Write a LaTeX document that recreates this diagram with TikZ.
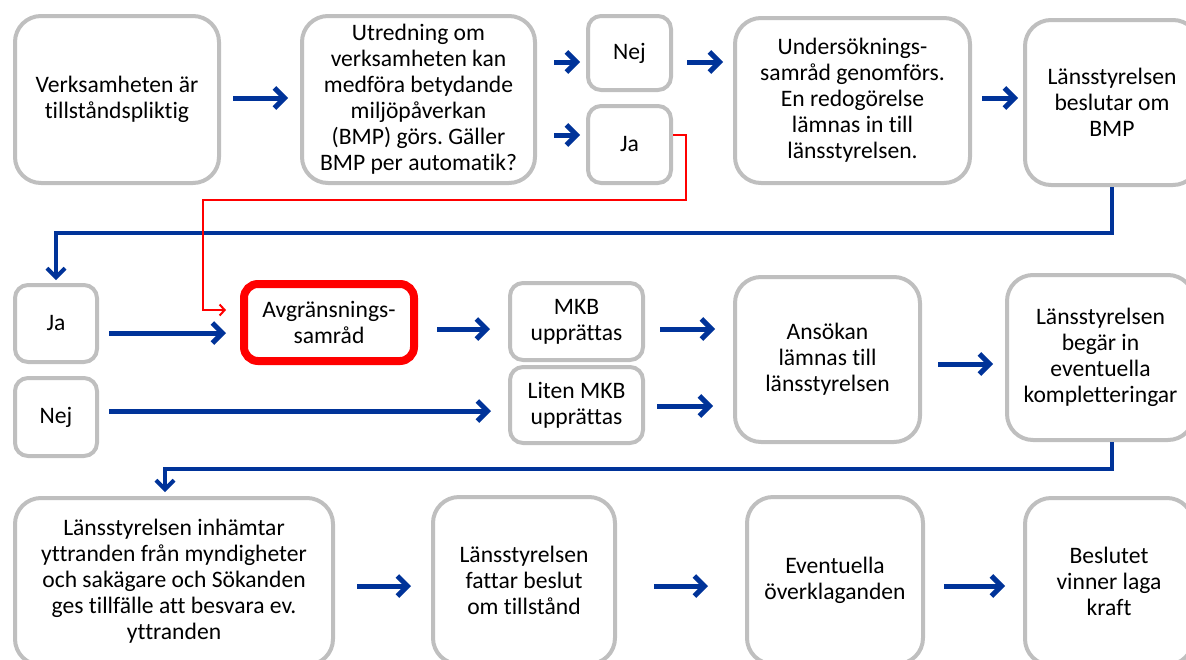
\documentclass[tikz,border=0pt]{standalone}
\usepackage{fontspec}
\setmainfont{Carlito}[Ligatures=NoCommon]
\frenchspacing
\usetikzlibrary{arrows.meta,calc}
\definecolor{boxgray}{RGB}{191,191,191}
\definecolor{arrblue}{RGB}{0,51,153}
\definecolor{hired}{RGB}{255,0,0}
\tikzset{
  box/.style={draw=boxgray, line width=4pt, fill=white, align=center, inner sep=2pt,
    font=\fontsize{23.6}{26}\selectfont},
  bigbox/.style={box, rounded corners=26pt},
  smallbox/.style={box, rounded corners=13pt},
  redbox/.style={box, draw=hired, line width=8pt, rounded corners=14pt},
  arr/.style={draw=arrblue, line width=5pt, -{Straight Barb[length=10pt,width=20pt]}},
  conn/.style={draw=arrblue, line width=4pt, -{Straight Barb[length=9pt,width=18pt]}},
  redarr/.style={draw=hired, line width=2pt, -{Straight Barb[length=5pt,width=11pt]}}
}
\begin{document}
\begin{tikzpicture}[x=1pt,y=-1pt]
\useasboundingbox (0,0) rectangle (1186,659);
% Row 1
\node[bigbox, minimum width=204pt, minimum height=167pt] (A) at (117,99.5) {Verksamheten är\\tillståndspliktig};
\node[bigbox, minimum width=233pt, minimum height=167pt] (B) at (418.5,99.5) {Utredning om\\verksamheten kan\\medföra betydande\\miljöpåverkan\\(BMP) görs. Gäller\\BMP per automatik?};
\node[smallbox, minimum width=83pt, minimum height=74pt] (Nej1) at (629.5,53) {Nej};
\node[smallbox, minimum width=83pt, minimum height=77pt] (Ja1) at (629.5,144.5) {Ja};
\node[bigbox, minimum width=235pt, minimum height=165pt] (U) at (852.5,100.5) {Undersöknings-\\samråd genomförs.\\En redogörelse\\lämnas in till\\länsstyrelsen.};
\node[bigbox, minimum width=174pt, minimum height=165pt] (L1) at (1112,102.5) {Länsstyrelsen\\beslutar om\\BMP};
% Row 2
\node[smallbox, minimum width=82pt, minimum height=77pt] (Ja2) at (56,323.5) {Ja};
\node[smallbox, minimum width=82pt, minimum height=78pt] (Nej2) at (56,417) {Nej};
\node[redbox, minimum width=170pt, minimum height=77pt] (Avgr) at (329,322.5) {Avgränsnings-\\samråd};
\node[smallbox, minimum width=133pt, minimum height=77pt] (MKB) at (576.5,321.5) {MKB\\upprättas};
\node[smallbox, minimum width=133pt, minimum height=76pt] (Liten) at (576.5,405) {Liten MKB\\upprättas};
\node[bigbox, minimum width=185pt, minimum height=165pt] (Ans) at (827.5,359.5) {Ansökan\\lämnas till\\länsstyrelsen};
\node[bigbox, minimum width=187pt, minimum height=165pt] (L2) at (1100.5,357.5) {Länsstyrelsen\\begär in\\eventuella\\kompletteringar};
% Row 3
\node[bigbox, minimum width=318pt, minimum height=167pt] (inh) at (174,581.5) {Länsstyrelsen inhämtar\\yttranden från myndigheter\\och sakägare och Sökanden\\ges tillfälle att besvara ev.\\yttranden};
\node[bigbox, minimum width=182pt, minimum height=167pt] (fat) at (524,580.5) {Länsstyrelsen\\fattar beslut\\om tillstånd};
\node[bigbox, minimum width=176pt, minimum height=167pt] (ev) at (835,580.5) {Eventuella\\överklaganden};
\node[bigbox, minimum width=168pt, minimum height=167pt] (bes) at (1109,581.5) {Beslutet\\vinner laga\\kraft};
% Arrows row 1
\draw[arr] ($(A.east)+(12,-1.5)$) -- ($(B.west)+(-12,-1.5)$);
\draw[arr] ($(B.east|-Nej1.west)+(17,9)$) -- ($(Nej1.west)+(-6,9)$);
\draw[arr] ($(B.east|-Ja1.west)+(17,-9.5)$) -- ($(Ja1.west)+(-6,-9.5)$);
\draw[arr] ($(Nej1.east)+(14,9)$) -- ($(Nej1.east -| U.west)+(-10,9)$);
\draw[arr] ($(U.east)+(10,-2.5)$) -- ($(U.east -| L1.west)+(-5,-2.5)$);
% Connector L1 -> Ja2
\coordinate (c1) at (1112,233);
\draw[conn, shorten >=3pt] (c1 |- L1.south) -- (c1) -| (Ja2.north);
% Red connector Ja1 -> Avgr
\coordinate (r1) at (686,200);
\coordinate (r2) at (203,310);
\draw[redarr] ($(Ja1.east)+(0,-9.5)$) -| (r1) -| (r2) -- ($(r2 -| Avgr.west)+(-14,0)$);
% Arrows row 2
\draw[arr] ($(Ja2.east)+(10,9.5)$) -- ($(Ja2.east -| Avgr.west)+(-14,9.5)$);
\draw[arr] ($(Nej2.east)+(10,-6)$) -- ($(Nej2.east -| Liten.west)+(-17,-6)$);
\draw[arr] ($(Avgr.east)+(19,6.5)$) -- ($(Avgr.east -| MKB.west)+(-18,6.5)$);
\draw[arr] ($(MKB.east)+(15,7.5)$) -- ($(MKB.east -| Ans.west)+(-18,7.5)$);
\draw[arr] ($(Liten.east)+(12,1)$) -- ($(Liten.east -| Ans.west)+(-20,1)$);
\draw[arr] ($(Ans.east)+(16,4.5)$) -- ($(Ans.east -| L2.west)+(-12,4.5)$);
% Connector L2 -> inh
\coordinate (c2) at (1112,469);
\draw[conn, shorten >=4pt] (c2 |- L2.south) -- (c2) -| ($(inh.north)+(-9,0)$);
% Arrows row 3
\draw[arr] ($(inh.east)+(22,4.5)$) -- ($(inh.east -| fat.west)+(-20,4.5)$);
\draw[arr] ($(fat.east)+(37,5.5)$) -- ($(fat.east -| ev.west)+(-37,5.5)$);
\draw[arr] ($(ev.east)+(19,5.5)$) -- ($(ev.east -| bes.west)+(-18,5.5)$);
\end{tikzpicture}
\end{document}
